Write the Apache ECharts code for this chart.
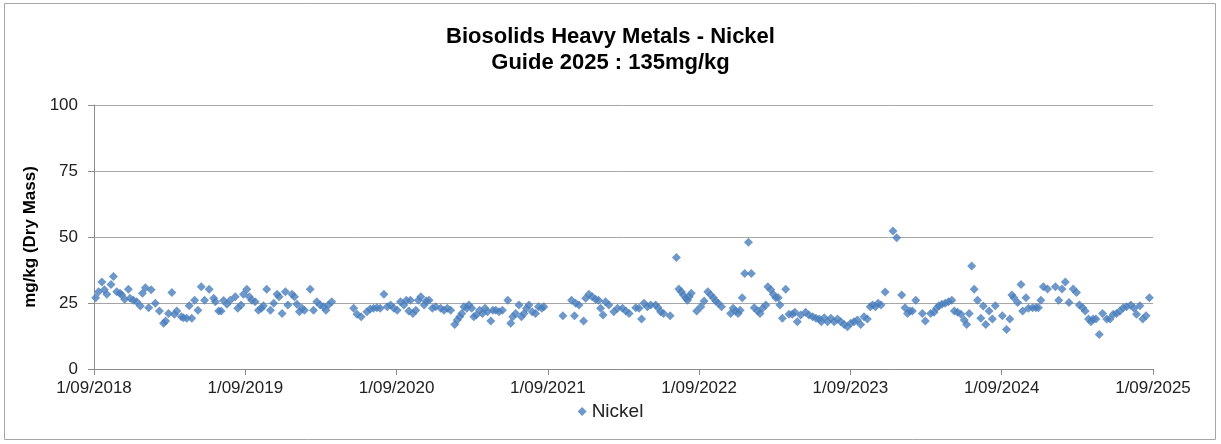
<!DOCTYPE html>
<html>
<head>
<meta charset="utf-8">
<title>Biosolids Heavy Metals - Nickel</title>
<script src="https://cdn.jsdelivr.net/npm/echarts@6/dist/echarts.min.js"></script>
<style>
  html, body { margin: 0; padding: 0; background: #ffffff; }
  #chart { width: 1221px; height: 444px; }
</style>
</head>
<body>
<div id="chart"></div>
<script>
// Sampling dates of the biosolids nickel results
const sampleDates = [
  '2018-09-05','2018-09-12','2018-09-20','2018-09-26','2018-10-02','2018-10-12','2018-10-18','2018-10-26','2018-11-03','2018-11-07','2018-11-14','2018-11-23','2018-11-27','2018-12-05','2018-12-13','2018-12-22','2018-12-27',
  '2019-01-03','2019-01-11','2019-01-17','2019-01-27','2019-02-06','2019-02-16','2019-02-21','2019-02-28','2019-03-08','2019-03-14','2019-03-20','2019-03-31','2019-04-05','2019-04-13','2019-04-19','2019-04-25','2019-05-02','2019-05-10','2019-05-18','2019-05-26','2019-06-06','2019-06-17','2019-06-21','2019-06-29','2019-07-05','2019-07-11','2019-07-19','2019-07-27','2019-08-08','2019-08-14','2019-08-22','2019-08-28','2019-09-05','2019-09-11','2019-09-17','2019-09-25','2019-10-03','2019-10-10','2019-10-15','2019-10-23','2019-11-01','2019-11-09','2019-11-17','2019-11-22','2019-11-29','2019-12-07','2019-12-13','2019-12-23','2019-12-29',
  '2020-01-04','2020-01-10','2020-01-16','2020-01-22','2020-02-05','2020-02-13','2020-02-21','2020-02-29','2020-03-08','2020-03-14','2020-03-20','2020-03-28','2020-05-20','2020-05-28','2020-06-07','2020-06-21','2020-06-29','2020-07-07','2020-07-15','2020-07-23','2020-08-01','2020-08-09','2020-08-17','2020-08-25','2020-09-02','2020-09-10','2020-09-18','2020-09-24','2020-09-30','2020-10-04','2020-10-10','2020-10-17','2020-10-23','2020-10-29','2020-11-06','2020-11-11','2020-11-18','2020-11-26','2020-12-04','2020-12-16','2020-12-24',
  '2021-01-01','2021-01-09','2021-01-19','2021-01-25','2021-01-31','2021-02-05','2021-02-10','2021-02-17','2021-02-22','2021-03-01','2021-03-06','2021-03-12','2021-03-20','2021-03-27','2021-04-02','2021-04-08','2021-04-16','2021-04-21','2021-04-28','2021-05-06','2021-05-14','2021-05-27','2021-06-03','2021-06-08','2021-06-15','2021-06-23','2021-06-29','2021-07-05','2021-07-11','2021-07-17','2021-07-25','2021-08-02','2021-08-09','2021-08-17','2021-08-22','2021-10-07','2021-10-28','2021-11-04','2021-11-07','2021-11-15','2021-11-26','2021-12-01','2021-12-09','2021-12-17','2021-12-25',
  '2022-01-01','2022-01-06','2022-01-12','2022-01-18','2022-01-26','2022-02-07','2022-02-16','2022-02-28','2022-03-08','2022-03-16','2022-04-01','2022-04-09','2022-04-15','2022-04-21','2022-04-29','2022-05-07','2022-05-19','2022-05-25','2022-05-31','2022-06-07','2022-06-23','2022-07-08','2022-07-14','2022-07-20','2022-07-25','2022-07-31','2022-08-04','2022-08-08','2022-08-13','2022-08-26','2022-09-05','2022-09-13','2022-09-22','2022-09-29','2022-10-05','2022-10-11','2022-10-17','2022-10-25','2022-11-16','2022-11-22','2022-11-28','2022-12-04','2022-12-09','2022-12-14','2022-12-20','2022-12-29',
  '2023-01-05','2023-01-12','2023-01-20','2023-01-26','2023-02-01','2023-02-09','2023-02-14','2023-02-21','2023-02-27','2023-03-05','2023-03-11','2023-03-15','2023-03-21','2023-03-29','2023-04-06','2023-04-14','2023-04-20','2023-04-26','2023-05-04','2023-05-16','2023-05-24','2023-06-02','2023-06-10','2023-06-18','2023-06-23','2023-06-30','2023-07-08','2023-07-16','2023-07-24','2023-08-01','2023-08-09','2023-08-17','2023-08-25','2023-09-02','2023-09-10','2023-09-18','2023-09-26','2023-10-04','2023-10-12','2023-10-19','2023-10-25','2023-11-01','2023-11-07','2023-11-14','2023-11-24','2023-12-13','2023-12-22',
  '2024-01-03','2024-01-11','2024-01-17','2024-01-23','2024-01-29','2024-02-06','2024-02-22','2024-02-29','2024-03-13','2024-03-21','2024-03-27','2024-04-02','2024-04-09','2024-04-17','2024-04-25','2024-05-03','2024-05-09','2024-05-17','2024-05-25','2024-06-02','2024-06-08','2024-06-14','2024-06-20','2024-06-26','2024-07-04','2024-07-12','2024-07-18','2024-07-24','2024-08-01','2024-08-09','2024-08-16','2024-09-02','2024-09-12','2024-09-20','2024-09-25','2024-09-30','2024-10-09','2024-10-17','2024-10-21','2024-10-29','2024-11-04','2024-11-14','2024-11-22','2024-11-28','2024-12-04','2024-12-10','2024-12-20',
  '2025-01-08','2025-01-16','2025-01-24','2025-02-01','2025-02-10','2025-02-20','2025-02-28','2025-03-07','2025-03-15','2025-03-21','2025-03-29','2025-04-04','2025-04-09','2025-04-16','2025-04-24','2025-05-02','2025-05-12','2025-05-20','2025-05-28','2025-06-05','2025-06-13','2025-06-21','2025-06-29','2025-07-09','2025-07-17','2025-07-23','2025-07-31','2025-08-07','2025-08-15','2025-08-23'
];

// Nickel concentration, mg/kg dry mass, one per sampling date
const nickelValues = [
  27,29.3,33,30,28.3,32,35,29.3,28.7,28,26.4,30.2,26.8,26,25.5,23.9,28.7,
  30.8,23.2,30,24.9,22,17.3,18.2,21,29,20.7,22,19.8,19.4,19.2,24,19.2,26,22.3,31.2,26,30.2,26.8,25.5,22,22,25.9,24.5,26,27.4,23,24.2,28.3,30.2,27.4,26,25.5,22.3,23,24,30.2,22.3,24.9,28.3,27.4,21,29.3,24.2,28.3,27.4,
  24.5,21.7,23,22.3,30.2,22.3,25.5,24.2,23.6,22.3,24.2,25.5,23,20.7,19.8,21.7,22.7,23,23.2,23,28.3,23.6,24.2,23,22.3,25.5,24.2,26,22,26,21,22.3,26,27.4,24.2,25.8,26,23,23.6,23,22.3,
  23,22.3,16.9,18.6,19.8,21,23.6,23,24.2,23,19.8,20.5,22.3,21,23,21.7,18.2,22.3,22.3,21.7,22.3,26,17.3,19.8,21,24.2,19.8,21,23,24.2,21.7,21,23.6,23,23.6,20.2,26,20.2,24.9,24.2,18.2,26.8,28.3,27.4,26.4,
  26,23,20.5,25.5,24.2,21.7,23,23,22,21,23.2,23,18.9,24.9,23.6,24.2,24.2,23.2,21.7,21,20.2,42.2,30.3,29.3,28,26.8,26,27.4,28.7,22,23.6,25.8,29.3,28,27,25.8,24.9,23.6,21,23,22,21,22.3,27,36.2,48,
  36.2,23.2,22,21,23,24.2,31.2,30,28.3,27,27,24.2,19.2,30.2,20.7,20.7,21.5,17.9,20.5,21.5,20.5,19.8,19.2,18.9,17.9,19.4,17.9,19.2,17.9,18.9,17.9,16.9,16,17.3,17.9,18.6,16.9,19.8,18.9,23.6,24.2,23.6,24.9,24.2,29.2,52.3,49.7,
  28,23.2,21,22,22,26,21,18.2,21,21.5,23,24,24.5,24.9,25.5,26,22,21.5,20.7,18.6,16.9,21,39,30.2,26,19.2,23.9,16.9,22,18.9,24,20.2,15,18.9,28,27,25.2,32,22,27,23,23.2,23.2,23.2,26,31.2,30.3,
  31.2,26,30.3,33,25.2,30.3,29,24.2,23.2,22,18.9,17.9,18.9,18.9,13.1,21,18.9,18.9,20.7,21,22,23.2,23.6,24.2,23,20.7,24,18.9,20.2,27
];

// Y axis scale (mg/kg)
const yTicks = [0, 25, 50, 75, 100];
// Reporting years, each axis tick falls on 1 September
const axisYears = [2018, 2019, 2020, 2021, 2022, 2023, 2024, 2025];

const DAY = 86400000;
const YEAR_DAYS = 365.25;
const origin = Date.parse(axisYears[0] + '-09-01');
const toDays = d => (Date.parse(d) - origin) / DAY;

const points = sampleDates.map((d, i) => [toDays(d), nickelValues[i]]);

const FONT = '"Liberation Sans", Arial, sans-serif';
const chart = echarts.init(document.getElementById('chart'), null, { renderer: 'canvas' });

chart.setOption({
  backgroundColor: '#ffffff',
  animation: false,
  title: {
    text: 'Biosolids Heavy Metals - Nickel\nGuide 2025 : 135mg/kg',
    left: 'center',
    top: 19,
    textStyle: {
      fontFamily: FONT,
      fontSize: 22,
      fontWeight: 'bold',
      color: '#000000',
      lineHeight: 26,
      align: 'center'
    }
  },
  legend: {
    bottom: 18,
    left: 'center',
    icon: 'diamond',
    itemWidth: 9,
    itemHeight: 9,
    itemGap: 6,
    textStyle: { fontFamily: FONT, fontSize: 19, color: '#222222' },
    data: ['Nickel']
  },
  graphic: [{
    type: 'rect',
    shape: { x: 4.5, y: 3.5, width: 1211, height: 436 },
    style: { fill: 'none', stroke: '#a6a6a6', lineWidth: 1 },
    silent: true,
    z: -1
  }],
  grid: {
    left: 94,
    right: 68,
    top: 105,
    bottom: 75,
    outerBoundsMode: 'none'
  },
  xAxis: {
    type: 'value',
    min: 0,
    max: YEAR_DAYS * (axisYears.length - 1),
    interval: YEAR_DAYS,
    axisLine: { show: true, lineStyle: { color: '#8c8c8c', width: 1 } },
    axisTick: { show: true, length: 6, lineStyle: { color: '#8c8c8c' } },
    splitLine: { show: false },
    axisLabel: {
      fontFamily: FONT,
      fontSize: 17,
      color: '#222222',
      margin: 11,
      formatter: v => '1/09/' + axisYears[Math.round(v / YEAR_DAYS)]
    }
  },
  yAxis: {
    type: 'value',
    min: yTicks[0],
    max: yTicks[yTicks.length - 1],
    interval: yTicks[1] - yTicks[0],
    name: 'mg/kg (Dry Mass)',
    nameLocation: 'middle',
    nameRotate: 90,
    nameGap: 53,
    nameTextStyle: { fontFamily: FONT, fontSize: 17, fontWeight: 'bold', color: '#000000' },
    axisLine: { show: true, lineStyle: { color: '#8c8c8c', width: 1 } },
    axisTick: { show: true, length: 6, lineStyle: { color: '#8c8c8c' } },
    splitLine: { show: true, lineStyle: { color: '#a6a6a6', width: 1 } },
    axisLabel: { fontFamily: FONT, fontSize: 17, color: '#222222', margin: 16 }
  },
  series: [{
    name: 'Nickel',
    type: 'scatter',
    symbol: 'diamond',
    symbolSize: 9,
    itemStyle: { color: '#4A7EBB' },
    data: points
  }]
});
</script>
</body>
</html>
